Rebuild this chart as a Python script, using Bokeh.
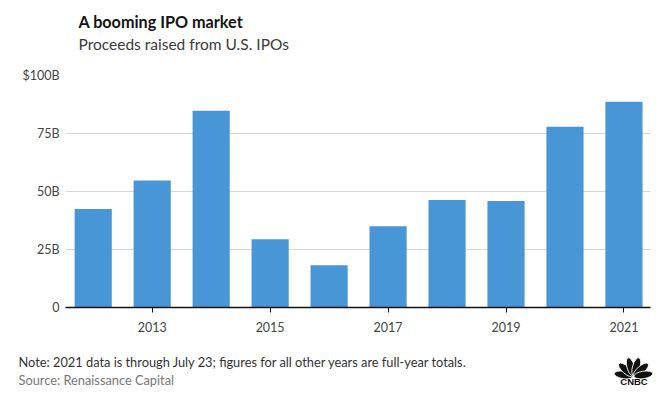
import numpy as np
from bokeh.plotting import figure
from bokeh.layouts import column, row
from bokeh.models import Range1d, FixedTicker, Label
from bokeh.embed import file_html
from bokeh.resources import INLINE

# ---- data ----
years = [2012, 2013, 2014, 2015, 2016, 2017, 2018, 2019, 2020, 2021]
proceeds_billion = [42.5, 54.7, 84.8, 29.4, 18.2, 35.0, 46.3, 45.9, 77.9, 88.7]
x_tick_years = [2013, 2015, 2017, 2019, 2021]
y_tick_values = [0, 25, 50, 75, 100]
y_tick_labels = ["0", "25B", "50B", "75B", "$100B"]

title_text = "A booming IPO market"
subtitle_text = "Proceeds raised from U.S. IPOs"
note_text = "Note: 2021 data is through July 23; figures for all other years are full-year totals."
source_text = "Source: Renaissance Capital"

FONT = "Lato"
BAR = "#4896d6"


def blank(w, h):
    f = figure(width=w, height=h, output_backend="svg", toolbar_location=None,
               x_range=Range1d(0, w), y_range=Range1d(0, h),
               min_border=0, x_axis_type=None, y_axis_type=None)
    f.outline_line_color = None
    f.xgrid.visible = False
    f.ygrid.visible = False
    return f


# ---- header ----
h = blank(661, 60)
h.add_layout(Label(x=13, y=39, x_units="screen", y_units="screen", text=title_text,
                   text_font=FONT, text_font_style="bold", text_font_size="16.2px",
                   text_color="#141414", text_baseline="alphabetic"))
h.add_layout(Label(x=13, y=17, x_units="screen", y_units="screen", text=subtitle_text,
                   text_font=FONT, text_font_size="15.5px",
                   text_color="#3a3a3a", text_baseline="alphabetic"))

# ---- main chart ----
p = figure(width=661, height=285, output_backend="svg", toolbar_location=None,
           x_range=Range1d(2011.53, 2021.45), y_range=Range1d(0, 100),
           min_border_left=65, min_border_right=11, min_border_top=15, min_border_bottom=38)
p.outline_line_color = None

p.vbar(x=years, top=proceeds_billion, width=0.63, fill_color=BAR, line_color=None)

p.xgrid.grid_line_color = None
p.ygrid.grid_line_color = "#d6d6d6"
p.ygrid.ticker = FixedTicker(ticks=y_tick_values)

xa = p.xaxis[0]
xa.ticker = FixedTicker(ticks=x_tick_years)
xa.axis_line_color = "#111111"
xa.axis_line_width = 1.3
xa.major_tick_line_color = "#111111"
xa.major_tick_in = 0
xa.major_tick_out = 5
xa.minor_tick_line_color = None
xa.major_label_standoff = 9
xa.major_label_text_font = FONT
xa.major_label_text_font_size = "12.5px"
xa.major_label_text_color = "#444444"

ya = p.yaxis[0]
ya.ticker = FixedTicker(ticks=y_tick_values)
ya.major_label_overrides = {v: l for v, l in zip(y_tick_values, y_tick_labels)}
ya.axis_line_color = None
ya.major_tick_line_color = None
ya.minor_tick_line_color = None
ya.major_tick_in = 0
ya.major_tick_out = 0
ya.major_label_standoff = 6
ya.major_label_text_font = FONT
ya.major_label_text_font_size = "12.5px"
ya.major_label_text_color = "#444444"

# ---- notes strip ----
n = blank(600, 53)
n.add_layout(Label(x=18, y=37, x_units="screen", y_units="screen", text=note_text,
                   text_font=FONT, text_font_size="12.8px", text_color="#333333",
                   text_baseline="alphabetic"))
n.add_layout(Label(x=18, y=19, x_units="screen", y_units="screen", text=source_text,
                   text_font=FONT, text_font_size="12.8px", text_color="#777777",
                   text_baseline="alphabetic"))

# ---- CNBC logo ----
g = blank(61, 53)
ang = np.linspace(np.pi * 0.95, np.pi * 0.05, 6)
cx, cy = 33.0, 22.0
g.ellipse(x=cx + 10.0 * np.cos(ang), y=cy + 10.0 * np.sin(ang), width=19, height=7.5,
          angle=ang, fill_color="#111111", line_color="white", line_width=0.9)
g.add_layout(Label(x=33.5, y=17, x_units="screen", y_units="screen", text="CNBC",
                   text_font="Liberation Sans", text_font_style="bold", text_font_size="9.5px",
                   text_color="#111111", text_align="center", text_baseline="alphabetic"))

layout = column(h, p, row(n, g))
open("out.html", "w").write(file_html(layout, INLINE))
